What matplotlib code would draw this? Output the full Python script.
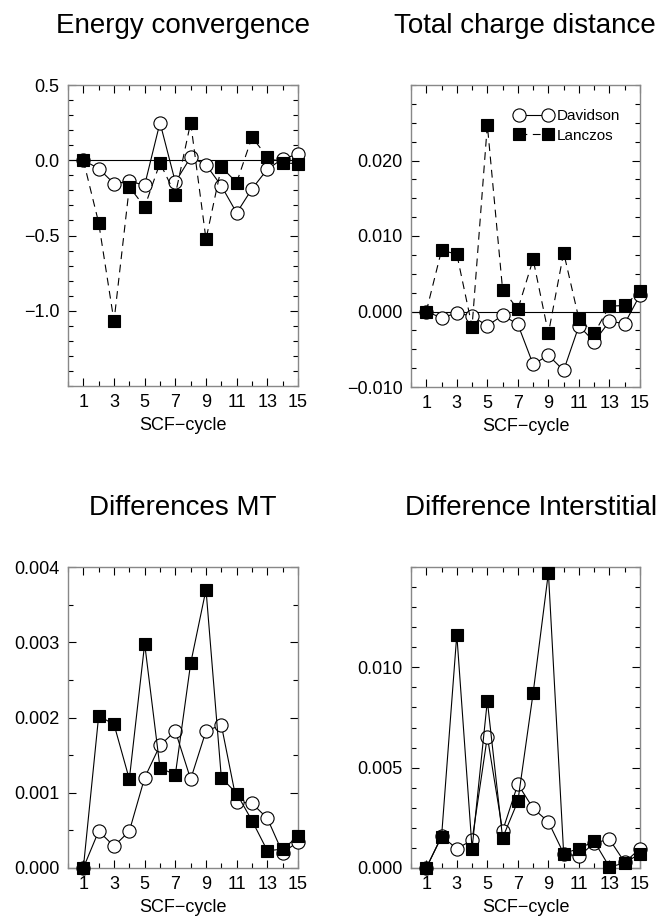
import matplotlib
matplotlib.use("Agg")
import matplotlib.pyplot as plt
from matplotlib.ticker import MultipleLocator, FixedLocator

plt.rcParams['font.family'] = ['Liberation Sans', 'DejaVu Sans']
plt.rcParams['axes.unicode_minus'] = True

cycles = list(range(1, 16))

# Energy convergence
energy_davidson = [0.0, -0.055, -0.155, -0.14, -0.165, 0.25, -0.145, 0.02, -0.03,
                   -0.17, -0.35, -0.19, -0.06, 0.01, 0.04]
energy_lanczos = [0.0, -0.415, -1.07, -0.177, -0.31, -0.018, -0.228, 0.25, -0.525,
                  -0.045, -0.148, 0.153, 0.022, -0.018, -0.022]

# Total charge distance
charge_davidson = [0.0, -0.00084, -0.0002, -0.0006, -0.0019, -0.0005, -0.0017, -0.0070,
                   -0.0058, -0.0078, -0.0019, -0.0040, -0.0013, -0.0016, 0.0022]
charge_lanczos = [0.0, 0.0081, 0.0076, -0.0020, 0.0247, 0.0029, 0.0003, 0.0069,
                  -0.0029, 0.0078, -0.0010, -0.0029, 0.0007, 0.0008, 0.0027]

# Differences MT
mt_davidson = [0.0, 0.00049, 0.00029, 0.00049, 0.0012, 0.00163, 0.00182, 0.00118,
               0.00182, 0.0019, 0.00088, 0.00086, 0.00066, 0.0002, 0.00035]
mt_lanczos = [0.0, 0.00202, 0.00191, 0.00118, 0.00298, 0.00133, 0.00124, 0.00272,
              0.0037, 0.0012, 0.00099, 0.00063, 0.00023, 0.00025, 0.00042]

# Difference Interstitial
int_davidson = [0.0, 0.00158, 0.00097, 0.00138, 0.00655, 0.00185, 0.00418, 0.00297,
                0.0023, 0.00072, 0.00058, 0.00125, 0.00143, 0.00028, 0.00097]
int_lanczos = [0.0, 0.00155, 0.01163, 0.00097, 0.00833, 0.0015, 0.00333, 0.00872,
               0.01472, 0.00072, 0.00097, 0.00133, 0.00005, 0.00025, 0.00072]

titles = ["Energy convergence", "Total charge distance",
          "Differences MT", "Difference Interstitial"]
xticks_major = [1, 3, 5, 7, 9, 11, 13, 15]
xlabel = "SCF\u2212cycle"

W, H = 664, 919
fig = plt.figure(figsize=(W / 100, H / 100), dpi=100)

def ax_at(l, t, r, b):
    return fig.add_axes([l / W, 1 - b / H, (r - l) / W, (b - t) / H])

axes = [ax_at(68, 85, 298, 386), ax_at(411, 85, 640, 387),
        ax_at(68, 567, 298, 868), ax_at(411, 567, 640, 868)]

panels = [
    (energy_davidson, energy_lanczos, (-1.5, 0.5), [-1.0, -0.5, 0.0, 0.5], 0.1, "%.1f", True, True),
    (charge_davidson, charge_lanczos, (-0.01, 0.03), [-0.01, 0.0, 0.01, 0.02], 0.0025, "%.3f", True, True),
    (mt_davidson, mt_lanczos, (0.0, 0.004), [0.0, 0.001, 0.002, 0.003, 0.004], 0.0005, "%.3f", False, False),
    (int_davidson, int_lanczos, (0.0, 0.015), [0.0, 0.005, 0.010], 0.001, "%.3f", False, False),
]

spine_col = "#888888"
for i, (ax, (dav, lan, ylim, yt, ymin, fmt, zero, dash)) in enumerate(zip(axes, panels)):
    if zero:
        ax.axhline(0, color="black", lw=0.8, zorder=1)
    ls_l = (0, (7, 5)) if dash else "-"
    ax.plot(cycles, dav, color="black", lw=0.8, ls="-", marker="o", ms=9.5,
            mfc="white", mec="black", mew=0.8, zorder=3, label="Davidson", clip_on=False)
    ax.plot(cycles, lan, color="black", lw=0.8, ls=ls_l, marker="s", ms=8,
            mfc="black", mec="black", mew=0.8, zorder=4, label="Lanczos", clip_on=False)
    ax.set_xlim(0, 15)
    ax.set_ylim(*ylim)
    ax.xaxis.set_major_locator(FixedLocator(xticks_major))
    ax.xaxis.set_minor_locator(MultipleLocator(1))
    ax.yaxis.set_major_locator(FixedLocator(yt))
    ax.yaxis.set_minor_locator(MultipleLocator(ymin))
    ax.set_yticklabels([(fmt % v).replace("-", "\u2212") for v in yt])
    ax.tick_params(which="both", direction="in", top=True, right=True,
                   labelsize=13, color="black", width=0.8)
    ax.tick_params(which="major", length=6, pad=6)
    ax.tick_params(which="minor", length=3.5)
    for s in ax.spines.values():
        s.set_color(spine_col)
        s.set_linewidth(1.0)
    ax.set_xlabel(xlabel, fontsize=13, labelpad=4)

# titles
fig.text(183 / W, 1 - 33 / H, titles[0], ha="center", va="baseline", fontsize=20)
fig.text(525 / W, 1 - 33 / H, titles[1], ha="center", va="baseline", fontsize=20)
fig.text(183 / W, 1 - 515 / H, titles[2], ha="center", va="baseline", fontsize=20)
fig.text(531 / W, 1 - 515 / H, titles[3], ha="center", va="baseline", fontsize=20)

leg = axes[1].legend(loc="upper right", bbox_to_anchor=(0.955, 0.95), frameon=False,
                     numpoints=2, handlelength=2.5, handletextpad=0.3,
                     fontsize=11, labelspacing=0.35, borderaxespad=0.2)

fig.savefig("out.png", dpi=100)
